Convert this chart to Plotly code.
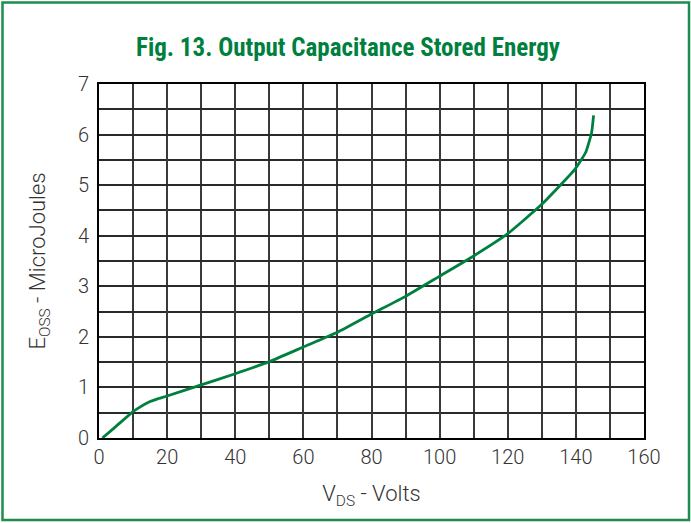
import plotly.graph_objects as go

v_ds = [1, 5, 10, 12, 15, 17, 20, 30, 40, 50, 60, 70, 80, 90, 100, 110, 120, 130, 139.7, 142.9, 144.6, 145.2]
e_oss = [0, 0.23, 0.52, 0.61, 0.72, 0.77, 0.83, 1.05, 1.27, 1.51, 1.80, 2.09, 2.45, 2.80, 3.20, 3.60, 4.04, 4.62, 5.31, 5.65, 6.03, 6.38]

x_ticks = [0, 20, 40, 60, 80, 100, 120, 140, 160]
y_ticks = [0, 1, 2, 3, 4, 5, 6, 7]

GREEN = "#00803e"
TICKFONT = dict(family="Roboto", size=20, color="#333333", weight=300)
AXTITLEFONT = dict(family="Roboto", size=22, color="#333333", weight=300)

fig = go.Figure()
fig.add_trace(go.Scatter(x=v_ds, y=e_oss, mode="lines",
                         line=dict(color=GREEN, width=2.8, shape="spline", smoothing=0.4),
                         hoverinfo="skip", showlegend=False))

fig.update_layout(
    width=691, height=523,
    margin=dict(l=99, r=47, t=84, b=85),
    paper_bgcolor="white", plot_bgcolor="white",
    title=dict(text="<b>Fig. 13. Output Capacitance Stored Energy</b>",
               font=dict(family="Liberation Sans Narrow, Roboto Condensed, Arial Narrow, sans-serif",
                         size=25, color=GREEN),
               x=348/691, xanchor="center", y=1-47/523, yanchor="middle"),
    xaxis=dict(range=[0, 160], tickvals=x_ticks,
               showgrid=True, gridcolor="#3a3a3a", gridwidth=1.5,
               minor=dict(dtick=10, tick0=0, showgrid=True, gridcolor="#3a3a3a", gridwidth=1.5, ticks=""),
               showline=True, linecolor="black", linewidth=2, mirror=True,
               ticks="", zeroline=False, tickfont=TICKFONT,
               title=dict(text="V<sub>DS</sub> - Volts", font=AXTITLEFONT, standoff=18)),
    yaxis=dict(range=[0, 7], tickvals=y_ticks,
               showgrid=True, gridcolor="#2a2a2a", gridwidth=1.5,
               minor=dict(dtick=0.5, tick0=0, showgrid=True, gridcolor="#2a2a2a", gridwidth=1.5, ticks=""),
               showline=True, linecolor="black", linewidth=2, mirror=True,
               ticks="", zeroline=False, tickfont=TICKFONT, ticklabelstandoff=4,
               title=dict(text="E<sub>OSS</sub> - MicroJoules", font=AXTITLEFONT, standoff=26)),
)

fig.add_shape(type="rect", xref="paper", yref="paper",
              x0=(2.5 - 99) / 545, x1=(689 - 99) / 545,
              y0=(438 - 520) / 354, y1=(438 - 2.5) / 354,
              line=dict(color="#1f8c4f", width=2.5), layer="below")

fig.write_html("out.html", config={"displayModeBar": False},
               post_script="document.body.style.margin='0';")
